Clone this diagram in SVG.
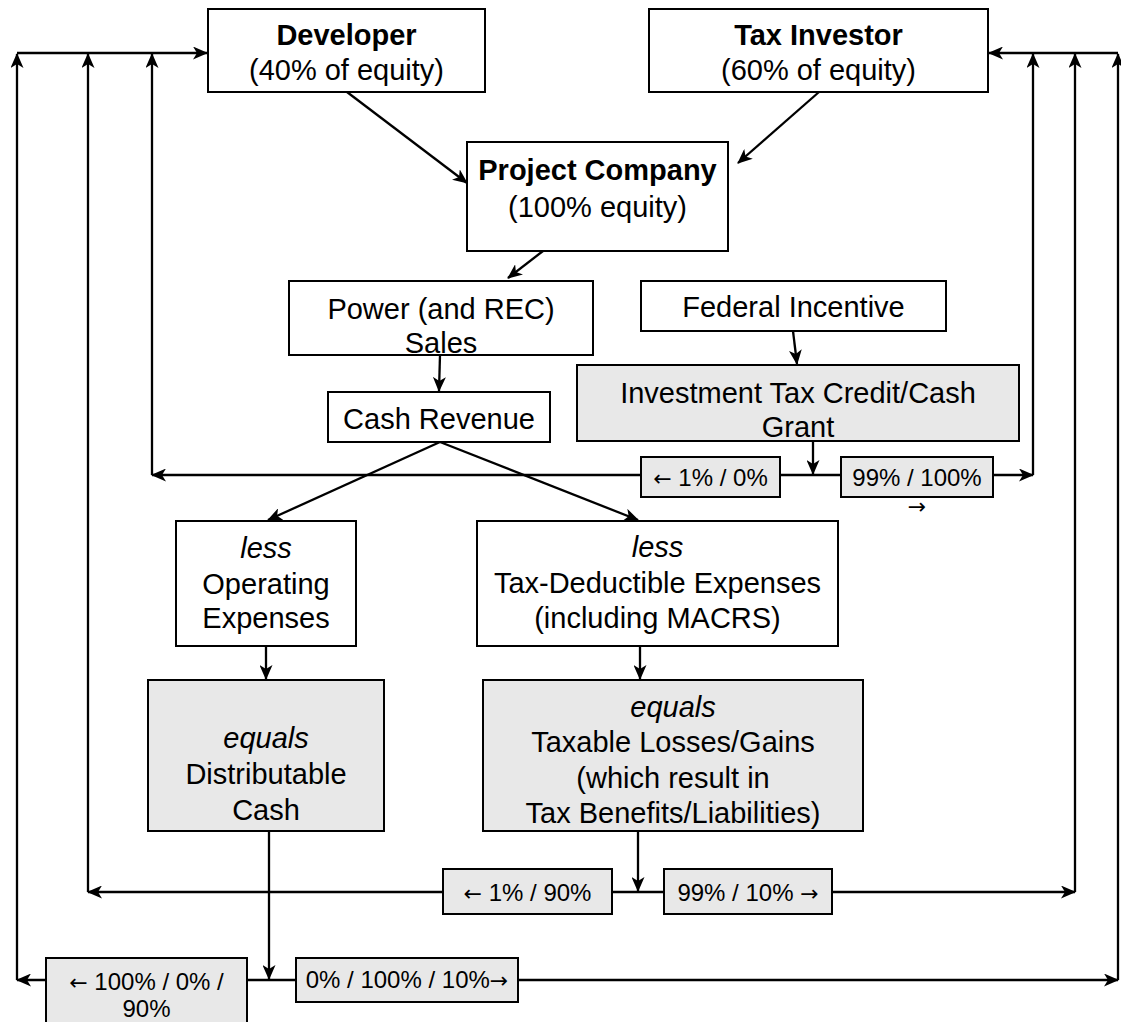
<svg xmlns="http://www.w3.org/2000/svg" width="1121" height="1022" viewBox="0 0 1121 1022">
<defs>
<marker id="ah" viewBox="0 0 15 13" refX="14" refY="6.5" markerWidth="15" markerHeight="13" orient="auto" markerUnits="userSpaceOnUse">
<path d="M0,0 L15,6.5 L0,13 L4,6.5 z" fill="#000"/>
</marker>
<style>
.box{fill:#fff;stroke:#000;stroke-width:2}
.gbox{fill:#e8e8e8;stroke:#000;stroke-width:2}
.t{font-family:"Liberation Sans",Arial,sans-serif;font-size:29px;fill:#000;text-anchor:middle}
.b{font-weight:bold}
.i{font-style:italic}
.s{font-family:"Liberation Sans",Arial,sans-serif;font-size:24px;fill:#000;text-anchor:middle}
.ar{font-family:"DejaVu Sans",sans-serif;font-size:22px}
.c{fill:none;stroke:#000;stroke-width:2.3}
.a{marker-end:url(#ah)}
</style>
</defs>
<rect width="1121" height="1022" fill="#fff"/>
<g id="connectors">
<path class="c a" d="M347,92 L467,183"/>
<path class="c a" d="M819,92 L738,163"/>
<path class="c a" d="M543,251 L508,278"/>
<path class="c a" d="M440,355 L439,391"/>
<path class="c a" d="M793,331 L797,364"/>
<path class="c a" d="M440,442 L268,520"/>
<path class="c a" d="M440,442 L638,520"/>
<path class="c a" d="M266,646 L266,679"/>
<path class="c a" d="M640,646 L640,679"/>
<path class="c a" d="M813,442 L813,474"/>
<path class="c a" d="M638,831 L638,891"/>
<path class="c a" d="M269,831 L269,979"/>
<path class="c a" d="M17,53 L207,53"/>
<path class="c a" d="M1118,53 L989,53"/>
<path class="c a" d="M17,980 L17,54"/>
<path class="c a" d="M88,892 L88,54"/>
<path class="c a" d="M152,475 L152,54"/>
<path class="c a" d="M1033,475 L1033,54"/>
<path class="c a" d="M1075,892 L1075,54"/>
<path class="c a" d="M1118,980 L1118,54"/>
<path class="c a" d="M813,475 L152,475"/>
<path class="c a" d="M813,475 L1033,475"/>
<path class="c a" d="M638,892 L88,892"/>
<path class="c a" d="M638,892 L1075,892"/>
<path class="c a" d="M269,980 L17,980"/>
<path class="c a" d="M269,980 L1118,980"/>
</g>
<g id="developer">
<rect class="box" x="208" y="9" width="277" height="83"/>
<text class="t b" x="346.5" y="45">Developer</text>
<text class="t" x="346.5" y="80">(40% of equity)</text>
</g>
<g id="tax-investor">
<rect class="box" x="649" y="9" width="339" height="83"/>
<text class="t b" x="818.5" y="45">Tax Investor</text>
<text class="t" x="818.5" y="80">(60% of equity)</text>
</g>
<g id="project-company">
<rect class="box" x="467" y="142" width="261" height="109"/>
<text class="t b" x="597.5" y="180">Project Company</text>
<text class="t" x="597.5" y="217">(100% equity)</text>
</g>
<g id="power-sales">
<rect class="box" x="289" y="281" width="304" height="74"/>
<text class="t" x="441" y="319">Power (and REC)</text>
<text class="t" x="441" y="353">Sales</text>
</g>
<g id="cash-revenue">
<rect class="box" x="328" y="392" width="222" height="50"/>
<text class="t" x="439" y="429">Cash Revenue</text>
</g>
<g id="federal-incentive">
<rect class="box" x="641" y="281" width="305" height="50"/>
<text class="t" x="793.5" y="317">Federal Incentive</text>
</g>
<g id="itc">
<rect class="gbox" x="577" y="365" width="442" height="76"/>
<text class="t" x="798" y="403">Investment Tax Credit/Cash</text>
<text class="t" x="798" y="437">Grant</text>
</g>
<g id="itc-left">
<rect class="gbox" x="641" y="457" width="139" height="40"/>
<text class="s" x="710.5" y="486"><tspan class="ar">←</tspan> 1% / 0%</text>
</g>
<g id="itc-right">
<rect class="gbox" x="841" y="457" width="152" height="40"/>
<text class="s" x="917" y="486">99% / 100%</text>
<text class="s" x="917" y="514"><tspan class="ar">→</tspan></text>
</g>
<g id="operating-expenses">
<rect class="box" x="176" y="521" width="180" height="125"/>
<text class="t i" x="266" y="558">less</text>
<text class="t" x="266" y="594">Operating</text>
<text class="t" x="266" y="628">Expenses</text>
</g>
<g id="tax-deductible">
<rect class="box" x="477" y="521" width="361" height="125"/>
<text class="t i" x="657.5" y="557">less</text>
<text class="t" x="657.5" y="593">Tax-Deductible Expenses</text>
<text class="t" x="657.5" y="628">(including MACRS)</text>
</g>
<g id="distributable-cash">
<rect class="gbox" x="148" y="680" width="236" height="151"/>
<text class="t i" x="266" y="748">equals</text>
<text class="t" x="266" y="784">Distributable</text>
<text class="t" x="266" y="820">Cash</text>
</g>
<g id="taxable">
<rect class="gbox" x="483" y="680" width="380" height="151"/>
<text class="t i" x="673" y="717">equals</text>
<text class="t" x="673" y="752">Taxable Losses/Gains</text>
<text class="t" x="673" y="788">(which result in</text>
<text class="t" x="673" y="823">Tax Benefits/Liabilities)</text>
</g>
<g id="tax-left">
<rect class="gbox" x="443" y="869" width="169" height="45"/>
<text class="s" x="527.5" y="901"><tspan class="ar">←</tspan> 1% / 90%</text>
</g>
<g id="tax-right">
<rect class="gbox" x="664" y="869" width="168" height="45"/>
<text class="s" x="748" y="901">99% / 10% <tspan class="ar">→</tspan></text>
</g>
<g id="cash-left">
<rect class="gbox" x="46" y="958" width="201" height="70"/>
<text class="s" x="146.5" y="990"><tspan class="ar">←</tspan> 100% / 0% /</text>
<text class="s" x="146.5" y="1017">90%</text>
</g>
<g id="cash-right">
<rect class="gbox" x="296" y="958" width="222" height="44"/>
<text class="s" x="407" y="988">0% / 100% / 10%<tspan class="ar">→</tspan></text>
</g>
</svg>
